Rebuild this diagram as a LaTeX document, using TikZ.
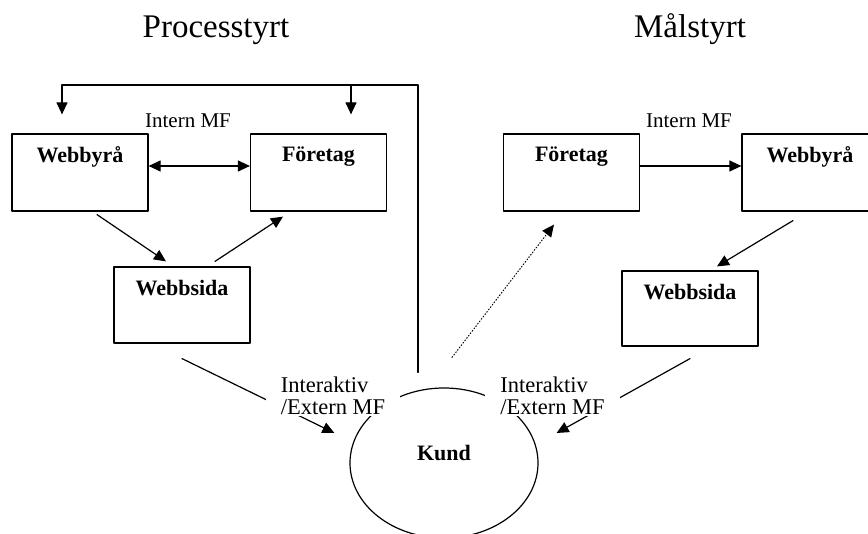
\documentclass[tikz,border=0pt]{standalone}
\usepackage{fontspec}
\setmainfont{Liberation Serif}
\usetikzlibrary{arrows.meta,shapes.geometric}
\begin{document}
\begin{tikzpicture}[x=1pt,y=-1pt,line join=round,line cap=round,line width=1.2pt,
	>={Triangle[length=12pt,width=11pt]},
	box/.style={draw,minimum width=136,minimum height=77,inner sep=0},
	boxtxt/.style={anchor=north,yshift=-13pt,inner sep=0,font=\fontsize{22}{24}\selectfont\bfseries},
	kundtxt/.style={anchor=center,yshift=10pt,inner sep=0,font=\fontsize{22}{24}\selectfont\bfseries},
	lbl/.style={fill=white,inner xsep=15pt,inner ysep=1pt,align=left,font=\fontsize{21}{22}\selectfont},
	title/.style={anchor=base,font=\fontsize{33}{36}\selectfont}]
	\useasboundingbox (0,0) rectangle (868,534);
	\path
	(216,38) node[title] (tP) {Processtyrt}
	(690,38) node[title] (tM) {Målstyrt}
	(80,172.5) node[box,label={[boxtxt]north:Webbyrå}] (wbL) {}
	(318.5,172.5) node[box,label={[boxtxt]north:Företag}] (foL) {}
	(182,305) node[box,minimum height=76] (wsL) {}
	(571.5,172.5) node[box,label={[boxtxt]north:Företag}] (foR) {}
	(810,172.5) node[box,label={[boxtxt]north:Webbyrå}] (wbR) {}
	(690,308.5) node[box,minimum height=75] (wsR) {}
	(444,463) node[draw,ellipse,minimum width=188,minimum height=150,inner sep=0,label={[kundtxt]center:Kund}] (kd) {}
	;
	\node[boxtxt] (wsLt) at (wsL.north) {Webbsida};
	\node[boxtxt] (wsRt) at (wsR.north) {Webbsida};
	\coordinate (fbR) at (418,85);
	\coordinate (fbL) at (62,85);
	\coordinate (fbM) at (351,85);
	\draw[->] ([xshift=-26pt,yshift=15pt]kd.north) -- (fbR) -- (fbL) -- ([xshift=-18pt,yshift=19pt]wbL.north);
	\draw[->] (fbM) -- ([xshift=32.5pt,yshift=19pt]foL.north);
	\draw[<->] ([yshift=6.5pt]wbL.east) -- ([yshift=6.5pt]foL.west);
	\draw[->] ([yshift=6.5pt]foR.east) -- ([yshift=6.5pt]wbR.west);
	\draw[->] ([xshift=17pt,yshift=-3pt]wbL.south) -- ([xshift=-16pt,yshift=5pt]wsL.north);
	\draw[->] ([xshift=33pt,yshift=5pt]wsL.north) -- ([xshift=-35.5pt,yshift=-5pt]foL.south);
	\draw[->] ([xshift=-17pt,yshift=-9pt]wbR.south) -- ([xshift=27pt,yshift=4pt]wsR.north);
	\draw[->] ([yshift=-15pt]wsL.south) -- ([xshift=-15pt,yshift=30pt]kd.west);
	\draw[->] ([yshift=-12pt]wsR.south) -- ([xshift=18pt,yshift=30pt]kd.east);
	\draw[->,dotted,line width=1pt] ([xshift=8pt,yshift=30pt]kd.north) -- ([xshift=-17.5pt,yshift=-13pt]foR.south);
	\path
	(188,121) node[lbl] (imL) {Intern MF}
	(689,121) node[lbl] (imR) {Intern MF}
	(333,396) node[lbl,font=\fontsize{22.5}{22}\selectfont] (ieL) {Interaktiv\\/Extern MF}
	(552.5,396) node[lbl,font=\fontsize{22.5}{22}\selectfont] (ieR) {Interaktiv\\/Extern MF}
	;
\end{tikzpicture}
\end{document}
